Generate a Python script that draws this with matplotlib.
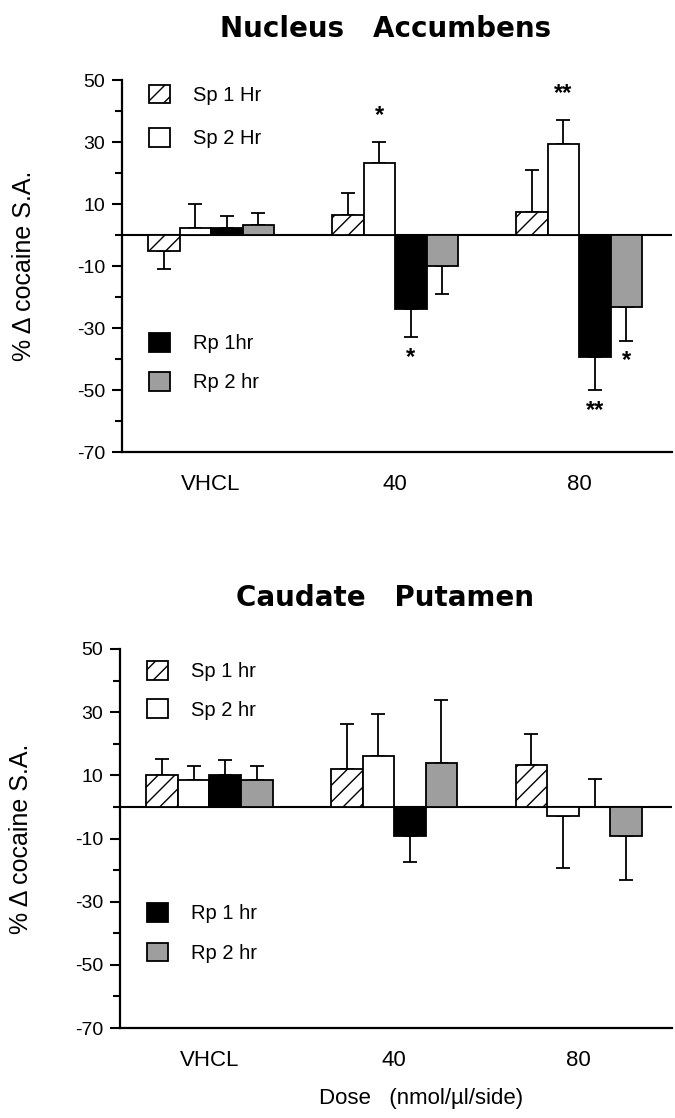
import numpy as np
import matplotlib
matplotlib.use('Agg')
import matplotlib.pyplot as plt
from matplotlib.patches import Patch

plt.rcParams['font.family'] = ['Liberation Sans', 'DejaVu Sans']
plt.rcParams['hatch.linewidth'] = 1.0
plt.rcParams['axes.unicode_minus'] = False

doses = ['VHCL', '40', '80']

# Nucleus Accumbens
nac_labels = ['Sp 1 Hr', 'Sp 2 Hr', 'Rp 1hr', 'Rp 2 hr']
nac_sp1 = [-5.1, 6.4, 7.3]
nac_sp2 = [2.4, 23.3, 29.5]
nac_rp1 = [2.4, -24.0, -39.3]
nac_rp2 = [3.2, -10.0, -23.2]
nac_sp1_err = [5.9, 7.2, 13.6]
nac_sp2_err = [7.5, 6.8, 7.7]
nac_rp1_err = [3.8, 8.9, 10.8]
nac_rp2_err = [3.8, 8.9, 10.9]
# (dose index, series index, mark)
nac_stars = [(1, 1, '*'), (1, 2, '*'), (2, 1, '**'), (2, 2, '**'), (2, 3, '*')]

# Caudate Putamen
cp_labels = ['Sp 1 hr', 'Sp 2 hr', 'Rp 1 hr', 'Rp 2 hr']
cp_sp1 = [10.0, 12.0, 13.3]
cp_sp2 = [8.5, 16.0, -3.0]
cp_rp1 = [10.0, -9.3, 0.0]
cp_rp2 = [8.5, 14.0, -9.3]
cp_sp1_err = [5.3, 14.4, 9.8]
cp_sp2_err = [4.5, 13.3, 16.3]
cp_rp1_err = [5.0, 8.0, 8.8]
cp_rp2_err = [4.5, 20.0, 13.7]

styles = [
    dict(facecolor='white', hatch='//'),
    dict(facecolor='white'),
    dict(facecolor='black'),
    dict(facecolor='#9e9e9e'),
]

width = 0.171
offsets = (np.arange(4) - 1.5) * width


def panel(ax, title, means, errs, labels, stars, leg_y, leg_sp):
    x = np.arange(len(doses))
    ax.axhline(0, color='black', lw=1.5, zorder=1)
    for i in range(4):
        m = np.array(means[i])
        e = np.array(errs[i])
        ax.bar(x + offsets[i], m, width, edgecolor='black', linewidth=1.3,
               zorder=3, **styles[i])
        up = np.where(m >= 0, e, 0)
        lo = np.where(m < 0, e, 0)
        ax.errorbar(x + offsets[i], m, yerr=[lo, up], fmt='none', ecolor='black',
                    elinewidth=1.3, capsize=5, capthick=1.3, zorder=2)
    for d, s, mark in stars:
        m = means[s][d]
        e = errs[s][d]
        if m >= 0:
            y = m + e + 8.5
        else:
            y = m - e - 6.5
        ax.text(d + offsets[s], y, mark, ha='center', va='center',
                fontsize=17, fontweight='bold')

    ax.set_xlim(-0.484, 2.505)
    ax.set_ylim(-70, 50)
    ax.set_yticks(np.arange(-70, 51, 20))
    ax.set_yticks(np.arange(-60, 50, 20), minor=True)
    ax.tick_params(axis='y', which='major', length=7, width=1.5, labelsize=14, pad=5)
    ax.tick_params(axis='y', which='minor', length=5, width=1.5)
    ax.set_xticks(np.arange(len(doses)))
    ax.set_xticklabels(doses)
    ax.tick_params(axis='x', length=0, labelsize=16, pad=16)
    for sp in ['top', 'right']:
        ax.spines[sp].set_visible(False)
    ax.spines['left'].set_linewidth(1.6)
    ax.spines['bottom'].set_linewidth(1.6)
    ax.set_ylabel('% Δ cocaine S.A.', fontsize=18)
    ax.yaxis.set_label_coords(-0.157, 0.5)
    ax.set_title(title, fontsize=20, fontweight='bold', pad=31,
                 family='DejaVu Sans', x=0.48)

    handles = [Patch(edgecolor='black', linewidth=1.3, **styles[i]) for i in range(4)]
    opts = dict(loc='upper left', frameon=False, handlelength=1.05, handleheight=1.05,
                handletextpad=1.15, fontsize=14.5, borderpad=0, borderaxespad=0)
    leg1 = ax.legend(handles[:2], labels[:2], bbox_to_anchor=(0.049, leg_y[0]),
                     labelspacing=leg_sp[0], **opts)
    ax.add_artist(leg1)
    ax.legend(handles[2:], labels[2:], bbox_to_anchor=(0.049, leg_y[1]),
              labelspacing=leg_sp[1], **opts)


fig = plt.figure(figsize=(6.75, 11.18), dpi=100)
ax1 = fig.add_axes([0.1807, 0.5957, 0.8149, 0.3327])
ax2 = fig.add_axes([0.1778, 0.0805, 0.8178, 0.3390])

panel(ax1, 'Nucleus   Accumbens',
      [nac_sp1, nac_sp2, nac_rp1, nac_rp2],
      [nac_sp1_err, nac_sp2_err, nac_rp1_err, nac_rp2_err],
      nac_labels, nac_stars, (0.988, 0.320), (1.15, 0.93))
panel(ax2, 'Caudate   Putamen',
      [cp_sp1, cp_sp2, cp_rp1, cp_rp2],
      [cp_sp1_err, cp_sp2_err, cp_rp1_err, cp_rp2_err],
      cp_labels, [], (0.968, 0.330), (0.9, 0.97))

ax2.set_xlabel('Dose   (nmol/µl/side)', fontsize=16, labelpad=12)
ax2.xaxis.set_label_coords(0.545, -0.158)

fig.savefig('out.png', dpi=100)
